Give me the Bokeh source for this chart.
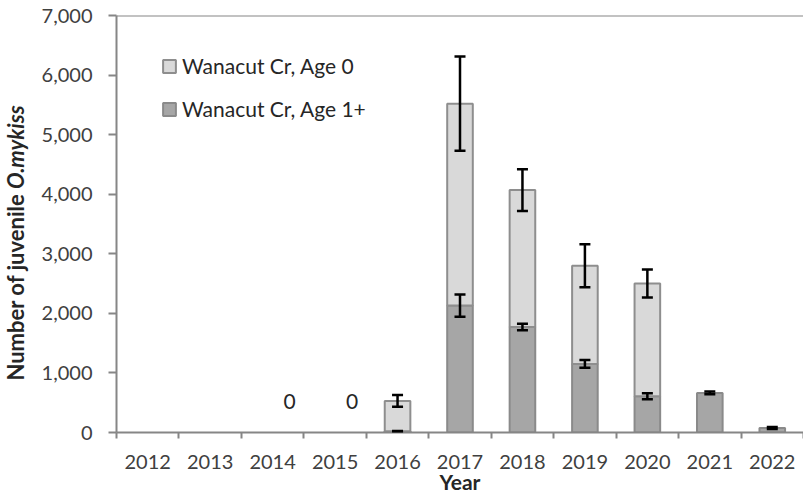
import numpy as np
from bokeh.plotting import figure
from bokeh.layouts import row
from bokeh.models import (ColumnDataSource, Range1d, FixedTicker, NumeralTickFormatter,
                          Whisker, TeeHead, Legend, LegendItem, Span, Div)
from bokeh.core.properties import value
from bokeh.embed import file_html
from bokeh.resources import INLINE

# ---- data ----
years = ["2012", "2013", "2014", "2015", "2016", "2017", "2018", "2019", "2020", "2021", "2022"]
age1 = [0, 0, 0, 0, 20, 2130, 1770, 1150, 610, 665, 75]
age0 = [0, 0, 0, 0, 510, 3390, 2300, 1650, 1890, 0, 0]
err_age1 = [0, 0, 0, 0, 6, 185, 55, 65, 50, 22, 18]
err_age0 = [0, 0, 0, 0, 98, 790, 350, 360, 235, 0, 0]
zero_years = ["2014", "2015"]
zero_text = ["0", "0"]
y_ticks = [0, 1000, 2000, 3000, 4000, 5000, 6000, 7000]
series_names = ["Wanacut Cr, Age 0", "Wanacut Cr, Age 1+"]
y_title_plain = "Number of juvenile "
y_title_italic = "O.mykiss"
x_title = "Year"

FONT = "Lato"
AX = "#868686"
DIV_W = 30
W, H = 803 - DIV_W, 496
BL, BR, BT, BB = 116 - DIV_W, 0, 15, 63

n = len(years)
xs = list(range(n))
total = [a + b for a, b in zip(age1, age0)]
i1 = [i for i in xs if age1[i] > 0]
i0 = [i for i in xs if age0[i] > 0]
src1 = ColumnDataSource(dict(x=[xs[i] for i in i1], top=[age1[i] for i in i1]))
src0 = ColumnDataSource(dict(x=[xs[i] for i in i0], bottom=[age1[i] for i in i0],
                             top=[total[i] for i in i0]))

p = figure(width=W, height=H,
           x_range=Range1d(-0.5, n - 0.5), y_range=Range1d(0, 7000),
           output_backend="svg", toolbar_location=None,
           min_border_left=BL, min_border_right=BR, min_border_top=BT, min_border_bottom=BB)
p.outline_line_color = None
p.grid.visible = False

r1 = p.vbar(x="x", top="top", bottom=0, width=0.41, source=src1,
            fill_color="#a6a6a6", line_color="#8a8a8a", line_width=2)
r0 = p.vbar(x="x", top="top", bottom="bottom", width=0.41, source=src0,
            fill_color="#d9d9d9", line_color="#8e8e8e", line_width=2)

def add_whisker(base, err):
    idx = [i for i in xs if err[i] > 0]
    s = ColumnDataSource(dict(x=[xs[i] for i in idx],
                              upper=[base[i] + err[i] for i in idx],
                              lower=[base[i] - err[i] for i in idx]))
    w = Whisker(source=s, base="x", upper="upper", lower="lower", dimension="height",
                line_color="black", line_width=2.5,
                upper_head=TeeHead(size=11, line_color="black", line_width=2.5),
                lower_head=TeeHead(size=11, line_color="black", line_width=2.5))
    w.level = "overlay"
    p.add_layout(w)

add_whisker(total, err_age0)
add_whisker(age1, err_age1)

# zero labels
zsrc = ColumnDataSource(dict(x=[years.index(y) for y in zero_years], y=[0] * len(zero_years), t=zero_text))
p.text(x="x", y="y", text="t", source=zsrc, x_offset=17, y_offset=-31,
       text_align="center", text_baseline="middle", text_font=value(FONT),
       text_font_size="21px", text_color="#262626")

# top border line
p.add_layout(Span(location=7000, dimension="width", line_color=AX, line_width=2))

# x axis
xa = p.xaxis[0]
xa.ticker = FixedTicker(ticks=xs, minor_ticks=[i - 0.5 for i in range(n + 1)])
xa.major_label_overrides = {i: y for i, y in zip(xs, years)}
xa.major_tick_out = 0
xa.major_tick_in = 0
xa.minor_tick_out = 6
xa.minor_tick_in = 0
xa.minor_tick_line_color = AX
xa.minor_tick_line_width = 2
xa.axis_line_color = AX
xa.axis_line_width = 2
xa.major_label_text_font = FONT
xa.major_label_text_font_size = "20px"
xa.major_label_text_color = "#404040"
xa.major_label_standoff = 16
xa.axis_label = x_title
xa.axis_label_text_font = FONT
xa.axis_label_text_font_size = "21px"
xa.axis_label_text_font_style = "bold"
xa.axis_label_text_color = "#262626"
xa.axis_label_standoff = -3

# y axis
ya = p.yaxis[0]
ya.ticker = FixedTicker(ticks=y_ticks)
ya.formatter = NumeralTickFormatter(format="0,0")
ya.major_tick_out = 8
ya.major_tick_in = 0
ya.minor_tick_line_color = None
ya.major_tick_line_color = AX
ya.major_tick_line_width = 2
ya.axis_line_color = AX
ya.axis_line_width = 2
ya.major_label_text_font = FONT
ya.major_label_text_font_size = "20px"
ya.major_label_text_color = "#404040"
ya.major_label_standoff = 16

legend = Legend(items=[LegendItem(label=series_names[0], renderers=[r0]),
                       LegendItem(label=series_names[1], renderers=[r1])],
                location=(45, 311), orientation="vertical",
                border_line_color=None, background_fill_alpha=0,
                padding=0, margin=0, spacing=18, glyph_width=16, glyph_height=16,
                label_standoff=5, label_height=25,
                label_text_font=FONT, label_text_font_size="21px", label_text_color="#262626")
p.add_layout(legend)

# y-axis title with mixed styles, as real HTML text rotated beside the plot
ytitle = Div(width=DIV_W, height=H, margin=0, text=(
    f'<div style="position:relative;width:{DIV_W}px;height:{H}px;">'
    f'<div style="position:absolute;left:16px;top:243px;transform:translate(-50%,-50%) rotate(-90deg);'
    f'white-space:nowrap;font-family:{FONT};font-weight:bold;font-size:22px;color:#262626;line-height:1;">'
    f'{y_title_plain}<i>{y_title_italic}</i></div></div>'))

layout = row(ytitle, p, spacing=0)
open("out.html", "w").write(file_html(layout, INLINE))
